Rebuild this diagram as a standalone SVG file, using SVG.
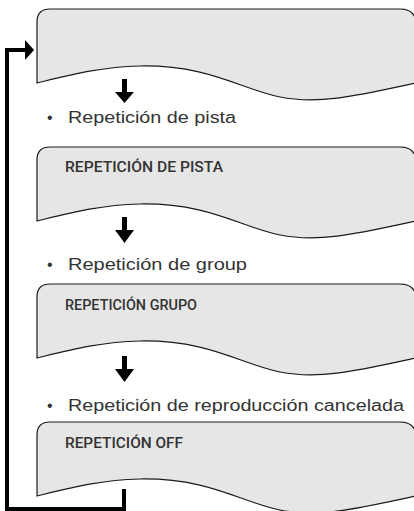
<svg xmlns="http://www.w3.org/2000/svg" width="414" height="511" viewBox="0 0 414 511">
  <style>
    .box { fill: #e6e6e6; stroke: #1a1a1a; stroke-width: 1.2; }
    .lbl { font-family: "Roboto", "Liberation Sans", sans-serif; font-weight: 500; font-size: 14px; fill: #333333; }
    .bul { font-family: "Liberation Sans", "Noto Sans", sans-serif; font-size: 16px; fill: #333333; }
    .arr { fill: #000000; }
    .fb { fill: none; stroke: #000000; stroke-width: 4; }
  </style>
  <defs>
    <path id="shape" d="M37,74 L37,13 Q37,0 50,0 L400,0 Q414,0 416,12 L416,74 C360,86 320,96 280,88 C240,80 210,56 140,57 C100,58 70,66 37,74 Z"/>
  </defs>
  <rect x="0" y="0" width="414" height="511" fill="#ffffff"/>

  <g id="node1">
    <use href="#shape" class="box" transform="translate(0,9)"/>
  </g>
  <g id="bullet1">
    <text class="bul" x="47" y="123">•</text>
    <text class="bul" x="68" y="123" textLength="168" lengthAdjust="spacingAndGlyphs">Repetición de pista</text>
  </g>

  <g id="node2">
    <use href="#shape" class="box" transform="translate(0,147)"/>
    <text class="lbl" x="65" y="172" textLength="158" lengthAdjust="spacingAndGlyphs">REPETICIÓN DE PISTA</text>
  </g>
  <g id="bullet2">
    <text class="bul" x="47" y="270">•</text>
    <text class="bul" x="68" y="270" textLength="179" lengthAdjust="spacingAndGlyphs">Repetición de group</text>
  </g>

  <g id="node3">
    <use href="#shape" class="box" transform="translate(0,284)"/>
    <text class="lbl" x="65" y="310" textLength="132" lengthAdjust="spacingAndGlyphs">REPETICIÓN GRUPO</text>
  </g>
  <g id="bullet3">
    <text class="bul" x="47" y="411">•</text>
    <text class="bul" x="68" y="411" textLength="336" lengthAdjust="spacingAndGlyphs">Repetición de reproducción cancelada</text>
  </g>

  <g id="node4">
    <use href="#shape" class="box" transform="translate(0,422)"/>
    <text class="lbl" x="65" y="448" textLength="118" lengthAdjust="spacingAndGlyphs">REPETICIÓN OFF</text>
  </g>

  <g id="connectors">
    <rect class="arr" x="122" y="79" width="5" height="14"/>
    <polygon class="arr" points="115,92 134,92 124.5,103"/>
    <rect class="arr" x="122" y="217" width="5" height="14"/>
    <polygon class="arr" points="115,230 134,230 124.5,243"/>
    <rect class="arr" x="122" y="356" width="5" height="14"/>
    <polygon class="arr" points="115,369 134,369 124.5,382"/>
    <path class="fb" d="M124,489 L124,509 L7,509 L7,50 L26,50"/>
    <polygon class="arr" points="25,40 34,50 25,60"/>
  </g>
</svg>
